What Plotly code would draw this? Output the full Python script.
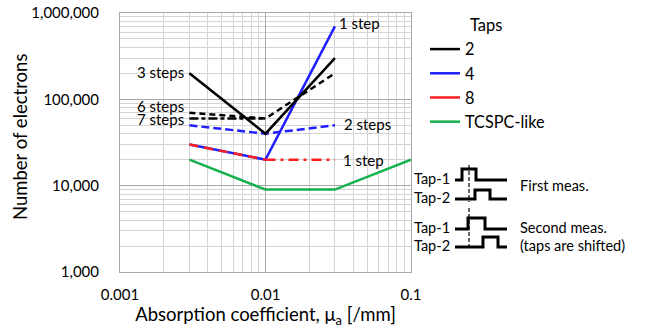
import plotly.graph_objects as go
import math

# Absorption coefficient samples [/mm]
mu_a = [0.003, 0.01, 0.03, 0.1]

# Number of electrons needed, per tap count / number of steps
taps2_3steps = [200000, 40000, 300000]
taps2_6steps = [70000, 60000, 200000]
taps2_7steps = [60000, 60000]
taps4_1step = [30000, 20000, 700000]
taps4_2steps = [50000, 40000, 50000]
taps8 = [30000, 20000]
taps8_1step = [20000, 20000]
tcspc_like = [20000, 9000, 9000, 20000]

legend_names = ["2", "4", "8", "TCSPC-like"]
legend_colors = ["#000000", "#1f1fff", "#ff1f1f", "#13b04b"]

x_tickvals = [0.001, 0.01, 0.1]
x_ticktext = ["0.001", "0.01", "0.1"]
y_tickvals = [1000, 10000, 100000, 1000000]
y_ticktext = ["1,000", "10,000", "100,000", "1,000,000"]

BLACK, BLUE, RED, GREEN = legend_colors
FONT = "Lato"
LW = 2.5

fig = go.Figure()


def add_line(x, y, color, dash="solid"):
    fig.add_trace(go.Scatter(x=x, y=y, mode="lines", showlegend=False,
                             line=dict(color=color, width=LW, dash=dash),
                             hoverinfo="skip"))


add_line(mu_a[:3], taps4_1step, BLUE)
add_line(mu_a[:3], taps4_2steps, BLUE, "8px,4px")
add_line(mu_a[:2], taps8, RED, "9px,6px")
add_line(mu_a[1:3], taps8_1step, RED, "10px,5px,3px,5px")
add_line(mu_a, tcspc_like, GREEN)
add_line(mu_a[:3], taps2_3steps, BLACK)
add_line(mu_a[:3], taps2_6steps, BLACK, "6px,4px")
add_line(mu_a[:2], taps2_7steps, BLACK, "9px,3px,4px,3px")

# legend entries (solid swatches)
for name, color in zip(legend_names, legend_colors):
    fig.add_trace(go.Scatter(x=[None], y=[None], mode="lines", name=name,
                             line=dict(color=color, width=LW)))

# step-count labels next to the lines
lx = [math.log10(v) for v in mu_a]
step_labels = [
    ("3 steps", lx[0], math.log10(taps2_3steps[0]), "right", -4, 1),
    ("6 steps", lx[0], math.log10(taps2_6steps[0]), "right", -4, 7),
    ("7 steps", lx[0], math.log10(taps2_7steps[0]), "right", -4, -1),
    ("1 step", lx[2], math.log10(taps4_1step[2]), "left", 3, 3),
    ("2 steps", lx[2], math.log10(taps4_2steps[2]), "left", 8, 1),
    ("1 step", lx[2], math.log10(taps8_1step[1]), "left", 7, 0),
]
annotations = []
for text, ax, ay, anchor, xs, ys in step_labels:
    annotations.append(dict(x=ax, y=ay, xref="x", yref="y", text=text,
                            showarrow=False, xanchor=anchor, yanchor="middle",
                            xshift=xs, yshift=ys, borderpad=0,
                            font=dict(family=FONT, size=15, color="black")))

# pixel -> paper helpers for the side panel
PL, PR, PT, PB = 120, 411, 13, 272


def px(xv):
    return (xv - PL) / (PR - PL)


def py(yv):
    return (PB - yv) / (PB - PT)


# y-axis title
annotations.append(dict(x=px(20), y=py(137), xref="paper", yref="paper",
                        text="Number of electrons", showarrow=False,
                        textangle=-90, xanchor="center", yanchor="middle",
                        font=dict(family=FONT, size=18.5, color="black")))

annotations.append(dict(x=px(468), y=py(25), xref="paper", yref="paper",
                        text="Taps", showarrow=False, xanchor="left",
                        yanchor="middle",
                        font=dict(family=FONT, size=16.5, color="black")))

# timing diagram: tap windows for the two measurements
waves = [
    # label, baseline y, pulse top y, pulse start x, pulse end x
    ("Tap-1", 180, 169, 462, 476),
    ("Tap-2", 199, 190, 475, 490),
    ("Tap-1", 229, 218, 468, 485),
    ("Tap-2", 247, 237, 483, 498),
]
shapes = []
for label, yb, yt, x0, x1 in waves:
    pts = [(455, yb), (x0, yb), (x0, yt), (x1, yt), (x1, yb), (507, yb)]
    path = "M " + " L ".join(f"{px(a)},{py(b)}" for a, b in pts)
    shapes.append(dict(type="path", path=path, xref="paper", yref="paper",
                       line=dict(color="black", width=3)))
    annotations.append(dict(x=px(452), y=py(yb - 2), xref="paper",
                            yref="paper", text=label, showarrow=False,
                            xanchor="right", yanchor="middle",
                            font=dict(family=FONT, size=14.5, color="black")))

for y0, y1 in [(165, 202), (208, 248)]:
    shapes.append(dict(type="line", xref="paper", yref="paper",
                       x0=px(469), x1=px(469), y0=py(y0), y1=py(y1),
                       line=dict(color="black", width=1.2, dash="4px,2px")))

for text, yc in [("First meas.", 185), ("Second meas.", 227),
                 ("(taps are shifted)", 245)]:
    annotations.append(dict(x=px(518), y=py(yc), xref="paper", yref="paper",
                            text=text, showarrow=False, xanchor="left",
                            yanchor="middle",
                            font=dict(family=FONT, size=14.5, color="black")))

MAJOR = "#a8a8a8"
MINOR = "#d4d4d4"

fig.update_xaxes(type="log", range=[-3, -1], tickmode="array",
                 tickvals=x_tickvals, ticktext=x_ticktext, automargin=False,
                 ticks="outside", ticklen=9, tickcolor="rgba(0,0,0,0)",
                 showgrid=True, gridcolor=MAJOR, gridwidth=1,
                 minor=dict(dtick="D1", showgrid=True, gridcolor=MINOR,
                            gridwidth=1, ticks=""),
                 showline=True, linecolor=MAJOR, mirror=True, zeroline=False,
                 tickfont=dict(family=FONT, size=15, color="black"),
                 title=dict(text="Absorption coefficient, μ<sub>a</sub> [/mm]",
                            font=dict(family=FONT, size=18.5, color="black"),
                            standoff=3))
fig.update_yaxes(type="log", range=[3, 6], tickmode="array",
                 tickvals=y_tickvals, ticktext=y_ticktext, automargin=False,
                 ticks="outside", ticklen=17, tickcolor="rgba(0,0,0,0)",
                 showgrid=True, gridcolor=MAJOR, gridwidth=1,
                 minor=dict(dtick="D1", showgrid=True, gridcolor=MINOR,
                            gridwidth=1, ticks=""),
                 showline=True, linecolor=MAJOR, mirror=True, zeroline=False,
                 tickfont=dict(family=FONT, size=15, color="black"))

fig.update_layout(
    width=645, height=331, autosize=False,
    margin=dict(l=PL, r=645 - PR, t=PT, b=331 - PB, pad=0, autoexpand=False),
    paper_bgcolor="white", plot_bgcolor="white",
    font=dict(family=FONT, color="black"),
    showlegend=True,
    legend=dict(x=px(425), y=py(32), xanchor="left", yanchor="top",
                bgcolor="rgba(0,0,0,0)", borderwidth=0,
                font=dict(family=FONT, size=16.3, color="black"),
                itemwidth=30),
    annotations=annotations,
    shapes=shapes,
)

fig.write_html("out.html")
